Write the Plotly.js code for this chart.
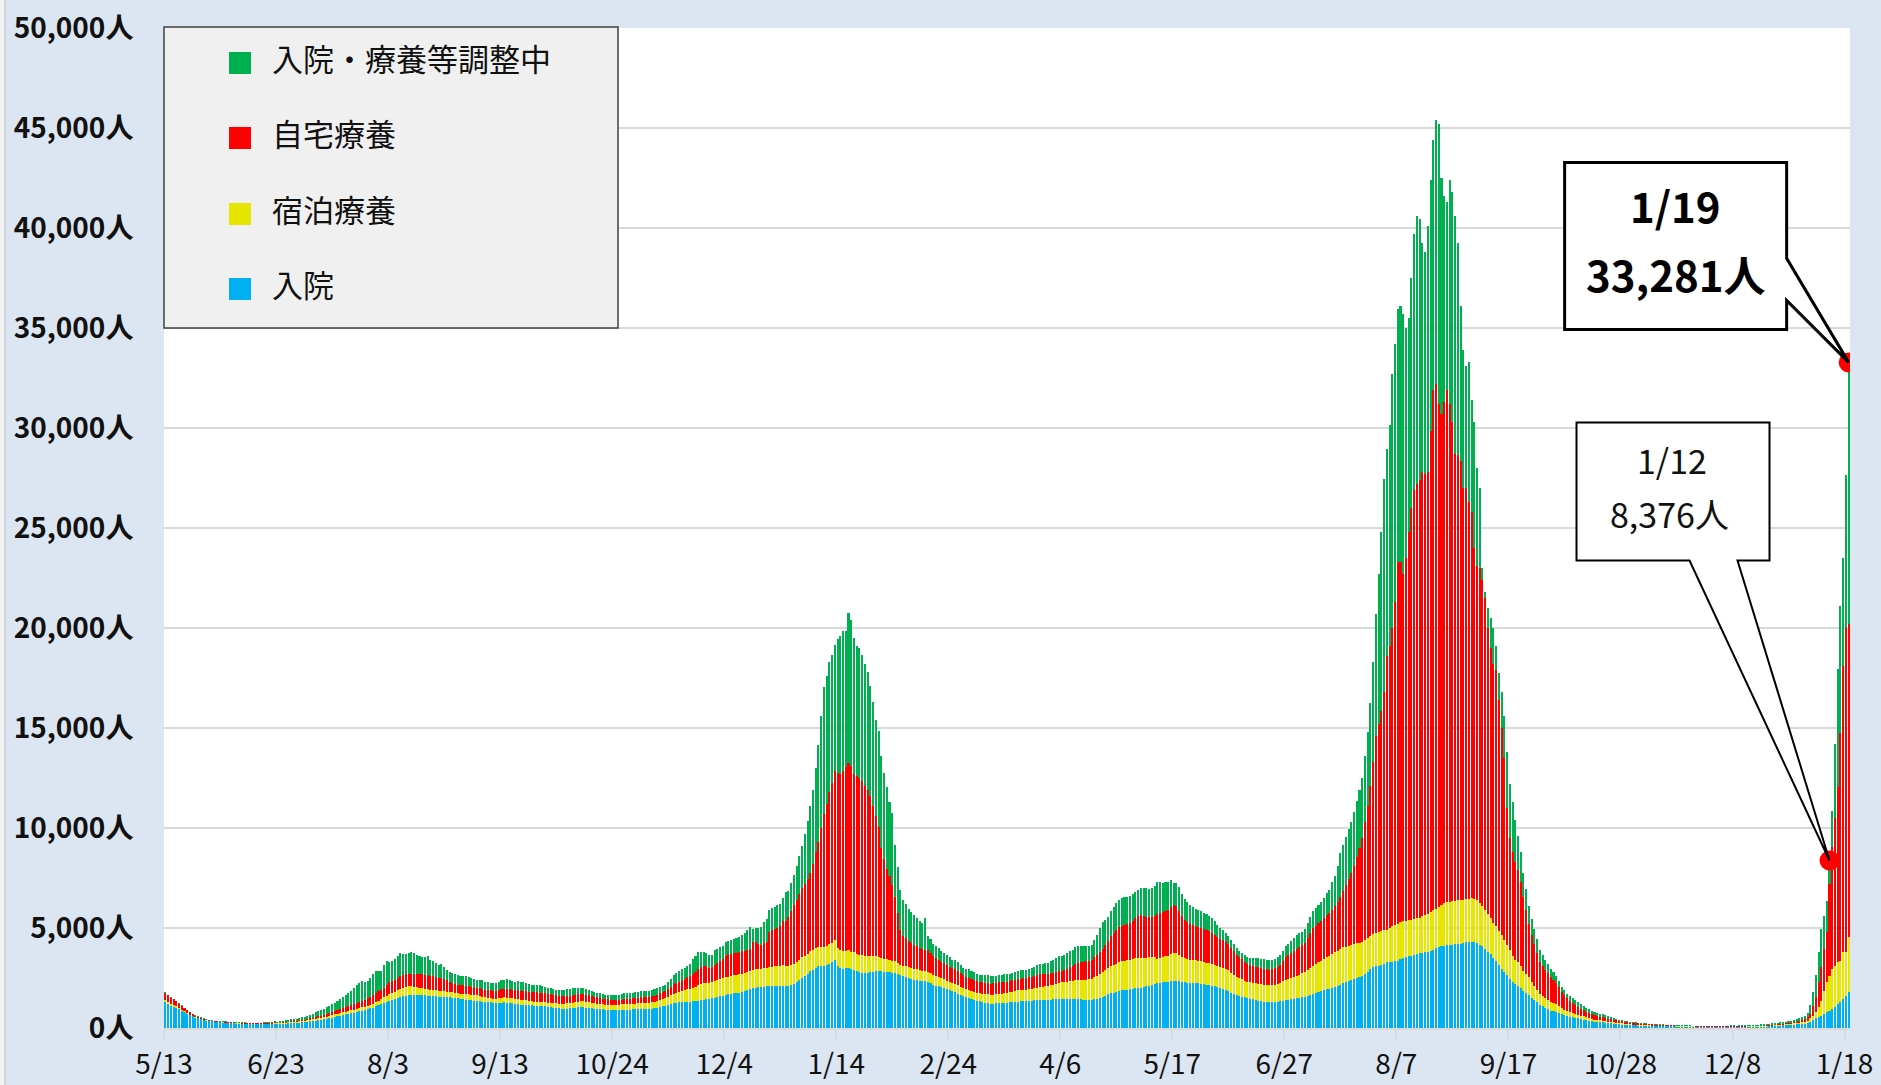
<!DOCTYPE html>
<html><head><meta charset="utf-8">
<script src="https://cdn.plot.ly/plotly-3.0.1.min.js"></script>
<style>html,body{margin:0;padding:0;background:#dce6f2;}#chart{width:1881px;height:1085px;}</style>
</head><body><div id="chart"></div>
<script>
// ---------------- DATA (daily, 2020-05-13 .. 2022-01-19) ----------------
const startDate = '2020-05-13';
const seriesNames = ['入院', '宿泊療養', '自宅療養', '入院・療養等調整中'];

const hospitalized = [
1280,1200,1120,1060,1000,930,850,780,700,640,580,520,480,440,400,370,350,330,310,290,280,270,260,250,240,230,220,220,210,210,200,200,200,190,190,190,190,190,200,200,210,
190,200,210,220,230,240,250,260,270,285,300,320,330,350,370,390,400,430,460,490,520,560,590,620,650,680,700,730,760,800,830,870,900,940,980,1020,1080,1130,1200,1250,1300,1370,
1400,1450,1500,1550,1600,1620,1650,1660,1650,1650,1640,1640,1630,1620,1610,1600,1590,1570,1560,1550,1540,1530,1520,1500,1480,1460,1440,1420,1400,1380,1370,1360,1340,1320,1300,1290,1280,1260,1250,1260,1270,
1280,1270,1250,1230,1210,1190,1170,1160,1150,1140,1130,1120,1120,1110,1100,1080,1060,1040,1020,1000,980,960,950,960,980,1000,1020,1040,1050,1040,1020,1000,980,960,950,940,930,920,910,900,900,
900,900,910,910,920,920,930,930,940,940,950,950,960,970,990,1010,1040,1080,1120,1160,1200,1240,1260,1280,1290,1300,1310,1320,1340,1350,1370,1390,1410,1430,1450,1480,1510,1550,1580,1620,1660,
1700,1720,1740,1760,1770,1790,1850,1900,1950,2000,2020,2040,2050,2070,2080,2080,2090,2090,2080,2080,2090,2100,2120,2150,2200,2300,2400,2500,2580,2700,2830,2900,3000,3080,3080,3080,3150,3220,3300,3380,3100,
3000,2950,2980,3000,2950,2880,2830,2780,2760,2750,2770,2780,2800,2830,2840,2830,2820,2800,2780,2760,2750,2700,2630,2580,2530,2480,2450,2420,2400,2370,2340,2330,2300,2230,2170,2120,2080,2030,1980,1930,1880,
1830,1780,1720,1660,1600,1550,1500,1450,1400,1360,1330,1300,1270,1240,1220,1220,1230,1240,1250,1260,1270,1280,1300,1310,1320,1330,1340,1350,1360,1370,1380,1390,1400,1400,1410,1420,1420,1430,1430,1440,1450,
1450,1450,1450,1450,1450,1440,1430,1420,1410,1400,1410,1430,1470,1520,1570,1620,1680,1730,1770,1810,1850,1880,1900,1920,1940,1960,1980,2000,2020,2050,2080,2110,2150,2190,2230,2260,2280,2300,2320,2340,2360,
2370,2340,2300,2280,2270,2260,2250,2240,2230,2210,2190,2170,2150,2120,2080,2040,1990,1940,1890,1830,1760,1700,1660,1610,1570,1530,1490,1460,1430,1400,1370,1340,1310,1290,1280,1280,1290,1310,1340,1370,1400,
1420,1440,1460,1480,1500,1530,1560,1600,1650,1700,1750,1810,1860,1900,1940,1970,2000,2050,2100,2170,2240,2280,2340,2400,2450,2500,2550,2600,2700,2820,2950,3050,3100,3120,3130,3200,3280,3290,3290,3330,3370,
3430,3480,3530,3580,3620,3660,3700,3730,3760,3790,3820,3860,3920,4000,4040,4080,4110,4130,4150,4170,4190,4210,4220,4240,4280,4300,4320,4320,4250,4170,4080,3950,3820,3680,3520,3350,3150,2950,2800,2650,2450,
2300,2200,2100,1980,1850,1740,1640,1520,1400,1300,1150,1080,1000,940,870,840,800,760,700,640,600,570,540,510,480,450,420,390,360,330,310,300,290,280,260,250,235,220,200,180,170,
160,150,140,135,130,125,120,115,110,105,100,95,90,88,85,82,80,78,76,74,72,70,68,66,65,64,63,62,61,60,60,60,60,60,60,60,60,60,60,60,60,
60,60,60,60,60,62,63,64,65,67,70,75,80,90,100,110,120,130,140,150,160,170,180,190,200,217,233,317,400,483,533,617,700,783,867,950,1033,1200,1317,1450,1617,1783
];

const hotel = [
120,110,100,90,80,70,60,50,40,30,20,20,15,15,10,10,10,10,10,10,10,10,10,10,10,10,10,10,10,10,10,10,10,10,10,15,15,15,20,20,20,
40,40,45,45,50,50,55,60,65,70,70,75,80,85,90,95,100,100,105,110,115,120,125,130,135,140,145,150,160,165,170,170,175,180,190,200,220,240,260,280,300,330,
350,360,380,400,420,430,430,420,400,380,360,340,320,310,300,300,300,300,300,290,280,270,260,250,250,260,270,280,280,280,280,270,260,250,240,230,220,210,200,220,240,
250,250,250,250,250,250,250,240,230,220,210,200,200,200,200,200,200,210,220,230,240,250,260,270,270,270,280,280,290,290,290,290,290,280,270,260,250,250,250,250,260,
260,270,270,280,280,280,290,290,290,290,290,300,300,310,320,340,360,370,390,410,440,480,510,540,570,600,630,650,680,720,760,800,820,810,800,800,820,840,850,860,870,
870,880,890,900,910,920,920,920,920,920,920,920,920,930,940,960,980,990,1000,1020,1040,1020,1000,1000,1000,1010,1020,1030,1030,1020,1000,990,980,970,960,950,960,980,950,1000,920,
880,880,890,880,860,900,880,880,870,870,840,800,780,750,720,670,650,630,610,590,580,560,540,540,550,560,550,540,530,520,510,500,500,500,500,500,480,460,450,440,430,
420,420,410,400,390,390,390,390,400,400,410,420,430,440,450,450,450,460,460,470,480,500,520,540,560,570,570,570,580,590,610,630,650,670,690,700,720,740,770,800,830,
840,860,880,900,930,950,970,990,1010,1030,1060,1100,1150,1200,1250,1300,1330,1350,1380,1400,1430,1450,1460,1470,1480,1490,1500,1500,1480,1460,1440,1420,1400,1350,1220,1250,1270,1290,1300,1340,1390,
1360,1300,1250,1200,1180,1160,1150,1140,1130,1120,1110,1100,1100,1090,1080,1080,1080,1080,1080,1060,1000,950,900,880,860,840,830,820,820,830,840,850,850,860,860,870,880,900,930,970,1010,
1030,1060,1090,1120,1160,1200,1250,1300,1350,1400,1450,1480,1500,1540,1600,1650,1700,1730,1750,1770,1790,1780,1770,1760,1750,1730,1720,1700,1690,1680,1670,1660,1650,1680,1700,1680,1640,1700,1790,1820,1850,
1880,1860,1830,1800,1790,1780,1780,1790,1820,1850,1880,1920,1960,1970,1990,2050,2120,2150,2160,2160,2160,2170,2170,2180,2180,2170,2160,2150,2130,2080,2000,1950,1880,1800,1750,1740,1720,1680,1600,1520,1450,
1300,1220,1180,1100,1000,950,900,800,700,620,550,520,490,470,430,410,380,340,290,260,230,210,200,190,180,170,160,150,130,120,110,100,90,80,80,75,70,65,65,60,60,
55,50,45,40,38,35,33,30,28,26,25,24,22,21,20,19,18,17,16,15,15,14,14,13,13,12,12,12,12,12,12,12,12,12,12,12,12,13,13,14,14,
14,14,15,15,16,16,17,18,19,20,22,24,27,30,35,38,40,44,48,50,55,60,67,75,85,100,134,166,217,300,500,750,1167,1500,1750,2000,2080,2120,2050,2330,2170,2750
];

const homeCare = [
350,330,300,280,250,220,200,170,150,120,100,80,70,60,50,40,40,30,30,30,30,30,30,30,30,30,30,30,30,30,30,30,30,30,30,30,40,40,40,40,50,
30,30,30,35,35,40,40,45,45,50,55,60,70,80,90,100,120,130,140,150,160,175,190,200,215,230,250,270,290,300,315,330,350,370,390,410,430,460,420,480,530,580,
600,610,620,630,640,650,620,640,660,680,700,710,720,720,710,690,660,650,640,600,560,500,470,450,440,430,420,410,400,390,380,380,380,380,380,380,380,380,380,400,420,
420,430,440,440,450,450,450,460,460,460,460,460,460,460,460,450,440,430,420,410,400,390,380,380,370,370,370,370,370,360,350,340,330,320,310,300,290,280,270,260,250,
240,240,240,250,250,260,270,280,290,300,300,300,300,300,310,320,330,330,340,380,420,460,480,500,520,560,600,650,700,750,800,850,880,860,760,750,800,860,920,990,1050,
1130,1100,1100,1100,1100,1120,1100,1100,1100,1400,1350,1250,1200,1250,1300,1750,1820,1850,1900,2000,2200,2250,2450,2700,2950,3100,3300,3450,3580,3750,3920,4300,4800,5250,5950,6670,7100,7580,8000,8450,8750,
8800,9000,9200,9370,9300,8930,8900,8830,8700,8500,8300,8000,7500,7000,6500,5500,5000,4500,4200,3800,3200,2500,1750,1500,1400,1300,1250,1200,1150,1100,1100,1080,1080,1000,920,880,850,820,800,780,760,
750,740,700,680,650,620,600,590,580,570,560,560,550,550,550,560,570,580,580,580,570,560,560,560,560,560,580,590,600,610,620,630,640,630,620,600,590,580,580,590,590,
610,650,700,750,830,860,880,900,910,920,950,1000,1050,1100,1130,1250,1350,1530,1600,1700,1750,1780,1790,1800,1850,1920,2000,2100,2150,2100,2050,2000,2000,2050,2250,2250,2250,2270,2300,2350,2400,
2350,2200,2050,1900,1850,1800,1750,1720,1700,1680,1660,1640,1600,1550,1500,1450,1400,1360,1330,1300,1250,1200,1100,1050,1000,950,900,880,860,840,820,800,780,780,780,800,820,850,900,1000,1150,
1200,1250,1300,1350,1400,1420,1440,1600,1750,1900,1900,1950,2000,2050,2100,2150,2200,2300,2450,2600,2800,3100,3350,3600,3900,4300,4750,5220,5900,6600,7460,8600,9850,10400,11000,11920,13680,14110,14920,16150,18080,
17990,17360,18140,19420,20590,21460,21720,21880,22220,22060,22100,24070,26020,26230,25170,24570,25070,25620,24890,23970,22350,22270,21960,20580,20540,19830,19320,17530,16720,16750,16320,15600,14300,13520,12930,12810,11530,10370,9100,6830,5600,
5200,4900,4630,4200,3700,3200,2680,2350,2080,1850,1580,1480,1400,1330,1270,1150,1050,950,800,740,650,580,520,460,400,330,300,280,270,250,220,200,180,170,160,150,150,130,120,110,100,
95,90,85,80,75,70,65,60,58,55,52,50,48,46,44,42,40,38,36,34,32,30,28,27,26,25,24,24,24,24,24,24,24,25,25,26,26,27,28,29,30,
25,25,25,25,26,26,27,28,29,30,32,34,36,38,40,42,44,46,48,50,55,60,70,83,100,133,166,217,466,750,1250,1666,2083,2500,4583,6083,7387,8710,11403,14310,16213,15647
];

const adjusting = [
30,20,20,20,20,20,20,20,20,20,20,20,20,20,20,20,20,20,20,20,30,30,30,30,30,30,30,30,30,30,30,30,30,30,30,30,40,40,50,50,60,
60,70,60,80,90,100,90,100,110,130,120,150,170,200,230,250,280,300,330,350,400,420,450,500,560,620,680,720,800,880,950,1000,900,850,950,1050,1100,1000,950,1150,1200,1000,
1000,1050,1100,1150,1050,1000,1050,1100,1050,950,900,850,900,950,800,750,700,650,700,600,500,480,500,520,480,450,470,500,480,440,420,400,420,450,400,380,360,380,400,420,450,
460,480,440,420,400,440,450,430,400,380,370,360,370,390,360,330,320,300,290,280,270,280,300,320,330,340,350,330,300,290,280,260,260,250,240,230,220,220,230,240,250,
260,250,260,290,280,270,280,300,290,310,300,320,310,320,330,340,330,330,320,330,400,450,500,520,550,560,580,600,720,800,850,750,700,650,650,600,750,700,680,650,700,
670,700,720,750,780,800,900,1000,1100,620,700,800,900,1050,1120,1120,1100,1120,1150,1080,1150,1420,1300,1400,1500,1700,1900,2100,2500,2900,3330,3700,4200,4830,5600,6330,6400,6500,6400,6330,6670,
6900,7000,6800,7500,7300,6800,6500,6500,6300,6100,5900,5500,5200,4800,4800,4600,4300,4100,3700,3600,2600,2300,2000,1800,1700,1600,1550,1500,1400,1350,1300,1600,700,700,620,600,580,560,540,520,480,
420,450,480,420,380,400,450,420,400,380,350,380,420,400,380,350,340,360,380,390,370,350,360,380,400,420,430,410,400,420,450,480,500,520,530,550,600,650,700,750,750,
760,780,800,820,830,840,820,800,780,760,750,850,1000,1200,1370,1250,1200,1250,1300,1350,1380,1400,1390,1380,1350,1320,1300,1320,1350,1400,1450,1420,1450,1500,1580,1520,1450,1420,1400,1380,1100,
1150,1200,1100,1080,1000,950,900,850,840,830,800,780,750,720,700,600,550,500,450,420,400,350,340,330,320,320,340,350,400,420,450,480,500,490,480,460,450,470,480,500,520,
550,600,650,700,670,670,700,750,800,850,900,920,950,1000,1100,1150,1380,1500,1800,2200,2300,2400,2500,2550,2700,2800,2900,3000,3300,3700,4180,5000,6120,7500,8950,10660,10350,11050,12690,12880,12670,
12800,13000,11500,10700,11500,12800,13400,13050,11450,11100,12300,12550,12500,13200,14000,11800,10300,9400,11200,11500,11900,10600,7750,6900,6100,7000,5600,6300,4900,4000,600,300,1000,1500,1800,1200,1350,1800,2100,2800,2700,
2500,2100,1700,1500,1200,1050,900,800,750,700,600,560,520,470,400,380,350,320,250,240,230,250,230,220,230,250,230,200,190,170,160,150,150,160,150,130,120,100,80,60,50,
45,45,40,40,40,40,40,38,36,35,34,33,32,31,30,29,28,27,26,25,24,23,22,22,22,22,22,22,22,22,22,22,22,22,22,22,23,23,24,25,26,
26,27,28,30,32,35,40,45,55,66,68,70,72,74,75,76,78,80,82,83,95,110,135,150,160,167,217,467,700,1117,1500,1917,1667,1584,1176,1800,3720,5940,6310,5430,7670,13101
];

const tickDates = ['2020-05-13','2020-06-23','2020-08-03','2020-09-13','2020-10-24','2020-12-04','2021-01-14','2021-02-24',
                   '2021-04-06','2021-05-17','2021-06-27','2021-08-07','2021-09-17','2021-10-28','2021-12-08','2022-01-18'];
const tickLabels = ['5/13','6/23','8/3','9/13','10/24','12/4','1/14','2/24','4/6','5/17','6/27','8/7','9/17','10/28','12/8','1/18'];
const yTickValues = [0,5000,10000,15000,20000,25000,30000,35000,40000,45000,50000];
const calloutDates = ['2022-01-12','2022-01-19'];

// ---------------- BUILD ----------------
const n = hospitalized.length;
const dayMs = 86400000;
const t0 = Date.UTC(2020, 4, 13);
const dates = [];
for (let i = 0; i < n; i++) dates.push(new Date(t0 + i * dayMs).toISOString().slice(0, 10));
const xMid = dates.map(d => d + ' 12:00');
const xEnd = new Date(t0 + n * dayMs).toISOString().slice(0, 10);
const totals = dates.map((_, i) => hospitalized[i] + hotel[i] + homeCare[i] + adjusting[i]);

const colors = ['#00B0F0', '#E6E600', '#FF0000', '#00B050'];
const seriesData = [hospitalized, hotel, homeCare, adjusting];
const FONT = 'Noto Sans CJK JP, Noto Sans, sans-serif';

const traces = seriesData.map((vals, k) => ({
  type: 'bar', x: xMid, y: vals, name: seriesNames[k],
  marker: {color: colors[k], line: {width: 0}},
  hovertemplate: '%{x|%Y/%m/%d}<br>' + seriesNames[k] + ': %{y:,}人<extra></extra>'
}));

const calloutIdx = calloutDates.map(d => dates.indexOf(d));
traces.push({
  type: 'scatter', mode: 'markers', showlegend: false, hoverinfo: 'skip',
  x: calloutIdx.map(i => xMid[i]), y: calloutIdx.map(i => totals[i]),
  marker: {size: 20, color: '#FF0000', line: {width: 0}}
});

// pixel helpers for plot-area-relative layout items
const L = 164, R = 31, T = 28, B = 57, W = 1881 - L - R, H = 1085 - T - B;
const px = x => (x - L) / W;
const py = y => (1085 - B - y) / H;

const shapes = [];
const annotations = [];

// outer frame strip at left edge
shapes.push({type: 'rect', xref: 'paper', yref: 'paper', x0: px(-2), x1: px(5), y0: py(1090), y1: py(-5),
  fillcolor: '#f2f2f2', line: {color: '#bfbfbf', width: 1}, layer: 'below'});

// legend box
shapes.push({type: 'rect', xref: 'paper', yref: 'paper', x0: px(164), x1: px(618), y0: py(328), y1: py(27),
  fillcolor: '#F0F0F0', line: {color: '#404040', width: 1.5}, layer: 'above'});
const legendOrder = [3, 2, 1, 0];
const rowY = [63, 138, 214, 289];
legendOrder.forEach((k, r) => {
  shapes.push({type: 'rect', xref: 'paper', yref: 'paper', x0: px(229), x1: px(251), y0: py(rowY[r] + 11), y1: py(rowY[r] - 11),
    fillcolor: colors[k], line: {width: 0}, layer: 'above'});
  annotations.push({xref: 'paper', yref: 'paper', x: px(270), y: py(rowY[r] - 6), xanchor: 'left', yanchor: 'middle',
    text: seriesNames[k], showarrow: false, font: {family: FONT, size: 31, color: '#111'}});
});

function mdLabel(d) { const p = d.split('-'); return (+p[1]) + '/' + (+p[2]); }

// callout 1/12 (thin)
{
  const i = calloutIdx[0];
  shapes.push({type: 'path', xref: 'x', yref: 'y', xsizemode: 'pixel', ysizemode: 'pixel',
    xanchor: xMid[i], yanchor: totals[i],
    path: 'M -253 438 L -60 438 L -60 300 L -92 300 L 0 0 L -140 300 L -253 300 Z',
    fillcolor: '#FFFFFF', line: {color: '#000', width: 2}, layer: 'above'});
  annotations.push({xref: 'x', yref: 'y', x: xMid[i], y: totals[i], xshift: -158, yshift: 401, showarrow: false,
    text: mdLabel(dates[i]), font: {family: FONT, size: 34, color: '#111'}});
  annotations.push({xref: 'x', yref: 'y', x: xMid[i], y: totals[i], xshift: -160, yshift: 347, showarrow: false,
    text: totals[i].toLocaleString('en-US') + '人', font: {family: FONT, size: 34, color: '#111'}});
}
// callout 1/19 (bold)
{
  const i = calloutIdx[1];
  shapes.push({type: 'path', xref: 'x', yref: 'y', xsizemode: 'pixel', ysizemode: 'pixel',
    xanchor: xMid[i], yanchor: totals[i],
    path: 'M -284 200 L -62 200 L -62 104 L 0 0 L -62 62 L -62 33 L -284 33 Z',
    fillcolor: '#FFFFFF', line: {color: '#000', width: 3}, layer: 'above'});
  annotations.push({xref: 'x', yref: 'y', x: xMid[i], y: totals[i], xshift: -173, yshift: 158, showarrow: false,
    text: '<b>' + mdLabel(dates[i]) + '</b>', font: {family: FONT, size: 42, color: '#000'}});
  annotations.push({xref: 'x', yref: 'y', x: xMid[i], y: totals[i], xshift: -173, yshift: 89, showarrow: false,
    text: '<b>' + totals[i].toLocaleString('en-US') + '人</b>', font: {family: FONT, size: 42, color: '#000'}});
}

const layout = {
  width: 1881, height: 1085,
  margin: {l: L, r: R, t: T, b: B, pad: 0},
  paper_bgcolor: '#DCE6F2', plot_bgcolor: '#FFFFFF',
  barmode: 'stack', bargap: 0.25,
  showlegend: false,
  font: {family: FONT, color: '#111'},
  xaxis: {
    type: 'date', range: [startDate, xEnd],
    tickmode: 'array', tickvals: tickDates, ticktext: tickLabels,
    ticks: 'outside', ticklen: 10, tickwidth: 2, tickcolor: '#D9D9D9',
    showline: true, linecolor: '#D9D9D9', linewidth: 2,
    showgrid: false, zeroline: false,
    tickfont: {family: FONT, size: 28, color: '#111'}
  },
  yaxis: {
    range: [0, 50000],
    tickmode: 'array', tickvals: yTickValues, ticktext: yTickValues.map(v => v.toLocaleString('en-US') + '人'),
    ticks: 'outside', ticklen: 24, tickcolor: 'rgba(0,0,0,0)',
    showgrid: true, gridcolor: '#D9D9D9', gridwidth: 2, zeroline: false, showline: false,
    tickfont: {family: FONT, size: 28, color: '#111', weight: 700}
  },
  shapes: shapes,
  annotations: annotations
};

Plotly.newPlot('chart', traces, layout, {displayModeBar: false, staticPlot: true});
</script>
</body></html>
